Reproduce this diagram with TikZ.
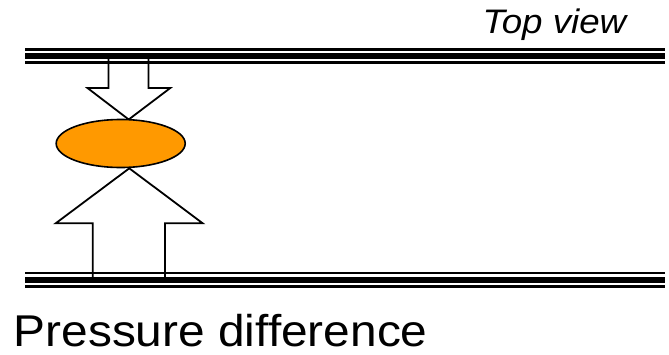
\documentclass[tikz,border=0pt]{standalone}
\usepackage{fontspec}
\setmainfont{Liberation Sans}
\usetikzlibrary{shapes.geometric}
\definecolor{blobfill}{HTML}{FF9900}
\begin{document}
\begin{tikzpicture}[x=1pt,y=-1pt,
  wallthin/.style={line width=2.4pt},
  wallthick/.style={line width=6.4pt},
  bigarrow/.style={line width=1.8pt, line join=miter},
  lbl/.style={inner sep=0pt, anchor=base west}]
\useasboundingbox (0,0) rectangle (669,354);
% arrows (drawn first, walls on top)
\draw[bigarrow] (108.5,56) -- (108.5,88) -- (87.5,88) -- (128.7,119.5) -- (170.3,88) -- (148.5,88) -- (148.5,56);
\draw[bigarrow] (92.7,279) -- (92.7,223.3) -- (55.7,223.3) -- (129.3,168.3) -- (202.7,223.3) -- (165,223.3) -- (165,279);
% particle
\node[draw, line width=1.6pt, fill=blobfill, ellipse, minimum width=129pt, minimum height=48pt, inner sep=0pt] (blob) at (120.7,143.5) {};
% top wall
\draw[wallthin] (25,49.4) -- (665,49.4);
\draw[wallthick] (25,55.8) -- (665,55.8);
\draw[wallthin] (25,62.4) -- (665,62.4);
% bottom wall
\draw[wallthin] (25,273.2) -- (665,273.2);
\draw[wallthick] (25,280.2) -- (665,280.2);
\draw[wallthin] (25,286.5) -- (665,286.5);
% labels
\node[lbl, font=\fontsize{34}{40}\selectfont\itshape] (topview) at (482.5,33.3) {\scalebox{1.08}[1]{Top view}};
\node[lbl, font=\fontsize{44.5}{50}\selectfont] (pressure) at (13.5,346.7) {\scalebox{1.075}[1]{Pressure difference}};
\end{tikzpicture}
\end{document}
